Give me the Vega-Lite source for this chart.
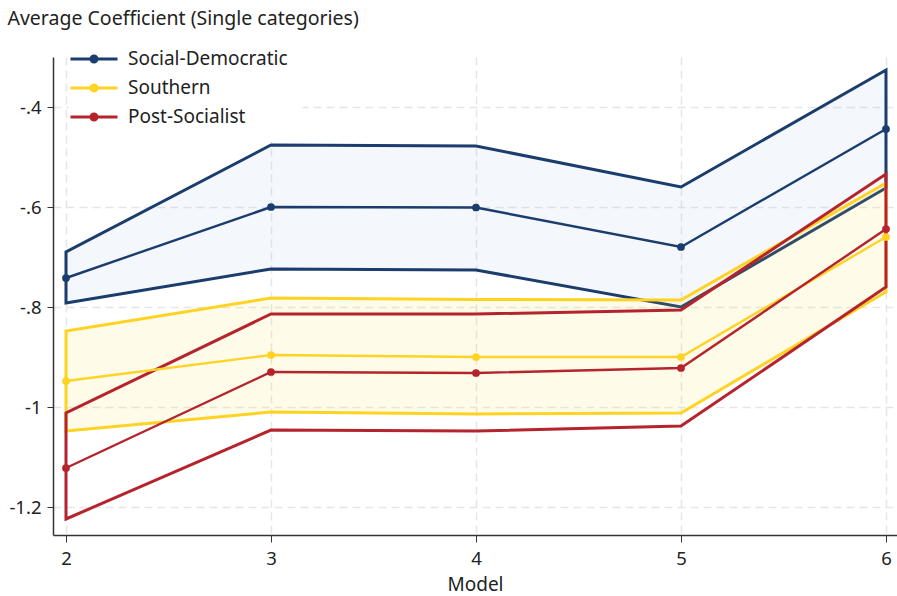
{
  "$schema": "https://vega.github.io/schema/vega-lite/v6.json",
  "width": 844,
  "height": 478,
  "autosize": {"type": "none"},
  "padding": {"left": 53, "top": 57, "right": 0, "bottom": 61},
  "background": "white",
  "config": {"font": "Noto Sans", "view": {"stroke": null}},
  "data": {
    "values": [
      {"model": 2, "series": "Social-Democratic", "est": -0.742, "lo": -0.792, "hi": -0.690},
      {"model": 3, "series": "Social-Democratic", "est": -0.600, "lo": -0.724, "hi": -0.476},
      {"model": 4, "series": "Social-Democratic", "est": -0.601, "lo": -0.726, "hi": -0.478},
      {"model": 5, "series": "Social-Democratic", "est": -0.680, "lo": -0.800, "hi": -0.560},
      {"model": 6, "series": "Social-Democratic", "est": -0.444, "lo": -0.562, "hi": -0.326},
      {"model": 2, "series": "Southern", "est": -0.948, "lo": -1.048, "hi": -0.848},
      {"model": 3, "series": "Southern", "est": -0.896, "lo": -1.010, "hi": -0.782},
      {"model": 4, "series": "Southern", "est": -0.900, "lo": -1.014, "hi": -0.785},
      {"model": 5, "series": "Southern", "est": -0.900, "lo": -1.012, "hi": -0.786},
      {"model": 6, "series": "Southern", "est": -0.660, "lo": -0.770, "hi": -0.552},
      {"model": 2, "series": "Post-Socialist", "est": -1.122, "lo": -1.224, "hi": -1.012},
      {"model": 3, "series": "Post-Socialist", "est": -0.930, "lo": -1.046, "hi": -0.814},
      {"model": 4, "series": "Post-Socialist", "est": -0.932, "lo": -1.048, "hi": -0.814},
      {"model": 5, "series": "Post-Socialist", "est": -0.922, "lo": -1.038, "hi": -0.806},
      {"model": 6, "series": "Post-Socialist", "est": -0.644, "lo": -0.760, "hi": -0.534}
    ]
  },
  "encoding": {
    "x": {
      "field": "model",
      "type": "quantitative",
      "scale": {"domain": [1.9366, 6.0537], "nice": false, "zero": false},
      "axis": {
        "title": "Model",
        "values": [2, 3, 4, 5, 6],
        "format": "d",
        "labelFontSize": 18.5,
        "labelColor": "#222",
        "labelPadding": 7,
        "titleFontSize": 19,
        "titleFontWeight": "normal",
        "titleColor": "#222",
        "titlePadding": 8,
        "tickSize": 7,
        "tickColor": "#333",
        "domainColor": "#333",
        "domainWidth": 1.5,
        "gridColor": "#e6e6e6",
        "gridDash": [8, 5],
        "gridWidth": 1.5
      }
    },
    "y": {
      "type": "quantitative",
      "scale": {"domain": [-1.256, -0.3], "nice": false, "zero": false},
      "axis": {
        "title": "Average Coefficient (Single categories)",
        "titleAngle": 0,
        "titleAlign": "left",
        "titleBaseline": "middle",
        "titleX": -46,
        "titleY": -39,
        "titleFontSize": 19.5,
        "titleFontWeight": "normal",
        "titleColor": "#222",
        "values": [-1.2, -1, -0.8, -0.6, -0.4],
        "labelExpr": "replace(toString(datum.value), '0.', '.')",
        "labelFontSize": 18.5,
        "labelColor": "#222",
        "labelPadding": 6,
        "tickSize": 6,
        "tickColor": "#333",
        "domainColor": "#333",
        "domainWidth": 1.5,
        "gridColor": "#e6e6e6",
        "gridDash": [8, 5],
        "gridWidth": 1.5
      }
    }
  },
  "layer": [
    {
      "transform": [{"filter": "datum.series == 'Social-Democratic'"}],
      "mark": {"type": "area", "strokeWidth": 3, "strokeJoin": "miter", "fill": "#78aadc", "fillOpacity": 0.08, "stroke": "#1a3d6d"},
      "encoding": {"y": {"field": "lo", "type": "quantitative"}, "y2": {"field": "hi"}}
    },
    {
      "transform": [{"filter": "datum.series == 'Southern'"}],
      "mark": {"type": "area", "strokeWidth": 3, "strokeJoin": "miter", "fill": "#ffd728", "fillOpacity": 0.1, "stroke": "#ffd324"},
      "encoding": {"y": {"field": "lo", "type": "quantitative"}, "y2": {"field": "hi"}}
    },
    {
      "transform": [{"filter": "datum.series == 'Post-Socialist'"}],
      "mark": {"type": "area", "strokeWidth": 3, "strokeJoin": "miter", "fill": "#ffffff", "fillOpacity": 0, "stroke": "#b5242d"},
      "encoding": {"y": {"field": "lo", "type": "quantitative"}, "y2": {"field": "hi"}}
    },
    {
      "mark": {"type": "line", "strokeWidth": 2.4, "point": {"filled": true, "size": 60}},
      "encoding": {
        "y": {"field": "est", "type": "quantitative"},
        "color": {
          "field": "series",
          "type": "nominal",
          "scale": {
            "domain": ["Social-Democratic", "Southern", "Post-Socialist"],
            "range": ["#1a3d6d", "#ffd324", "#b5242d"]
          },
          "legend": {
            "title": null,
            "orient": "none",
            "legendX": 15.5,
            "legendY": -23.5,
            "padding": 14,
            "fillColor": "white",
            "symbolType": "M-2.35,0H2.35M-0.3,0A0.3,0.3,0,1,0,0.3,0A0.3,0.3,0,1,0,-0.3,0Z",
            "symbolSize": 400,
            "symbolStrokeWidth": 3,
            "labelOffset": 22.5,
            "labelFontSize": 19,
            "labelColor": "#222",
            "rowPadding": 7,
            "encode": {
              "symbols": {"update": {"fill": {"scale": "color", "field": "value"}, "stroke": {"scale": "color", "field": "value"}, "opacity": {"value": 1}}}
            }
          }
        }
      }
    }
  ]
}
